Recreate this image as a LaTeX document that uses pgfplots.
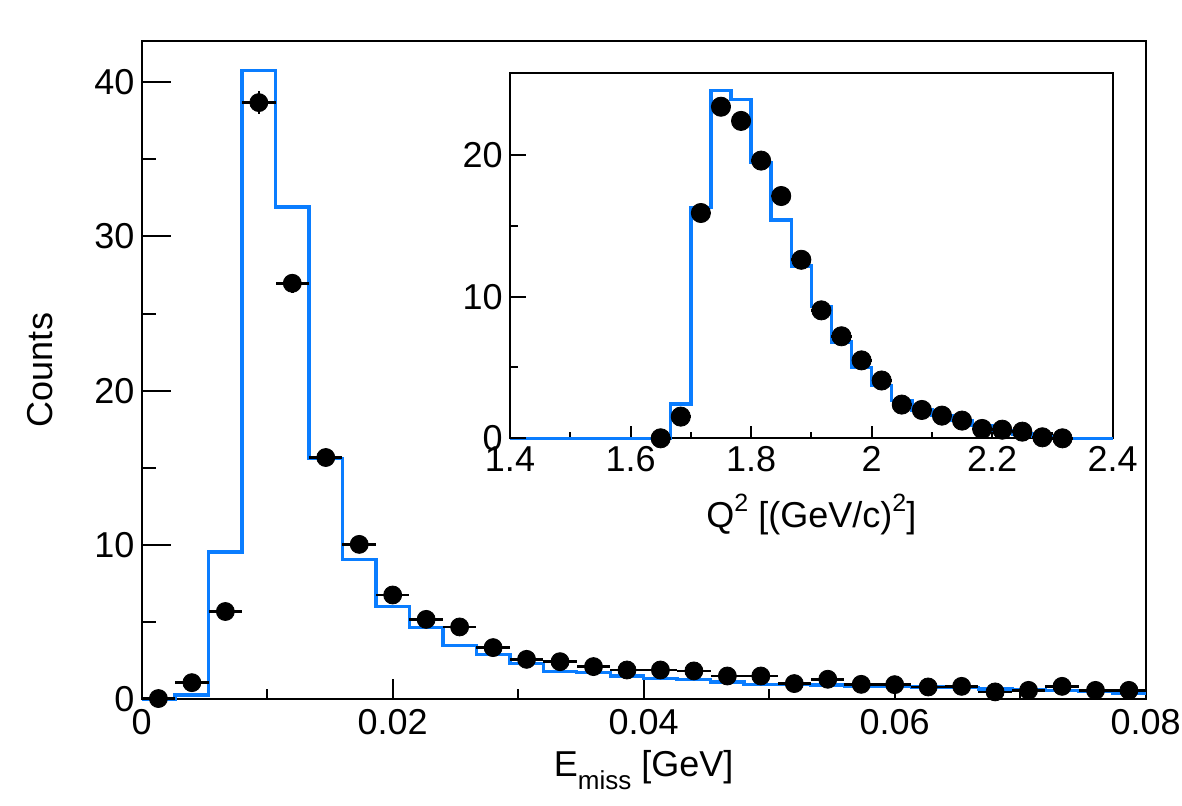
\documentclass[border=0pt]{standalone}
\usepackage{fontspec}
\setmainfont{Liberation Sans}
\usepackage{pgfplots}
\usepackage{pgfplotstable}
\pgfplotsset{compat=1.18}
\definecolor{histblue}{RGB}{10,125,255}

% E_miss: simulated histogram, bin low edges (last row closes the final bin)
\pgfplotstableread{
edge       h
0          0.0
0.0026667  0.28
0.0053333  9.55
0.008      40.75
0.0106667  31.9
0.0133333  15.62
0.016      9.05
0.0186667  6.0
0.0213333  4.64
0.024      3.5
0.0266667  2.92
0.0293333  2.31
0.032      1.81
0.0346667  1.73
0.0373333  1.51
0.04       1.34
0.0426667  1.30
0.0453333  1.12
0.048      0.97
0.0506667  0.95
0.0533333  0.92
0.056      0.84
0.0586667  0.82
0.0613333  0.79
0.064      0.76
0.0666667  0.66
0.0693333  0.62
0.072      0.58
0.0746667  0.50
0.0773333  0.40
0.08       0.40
}\emisshist

% E_miss: data, bin centres
\pgfplotstableread{
x          y      e
0.0013333  0.05   0.05
0.004      1.08   0.20
0.0066667  5.69   0.40
0.0093333  38.67  0.75
0.012      26.96  0.60
0.0146667  15.67  0.45
0.0173333  10.04  0.35
0.02       6.76   0.30
0.0226667  5.18   0.25
0.0253333  4.69   0.25
0.028      3.35   0.20
0.0306667  2.59   0.18
0.0333333  2.44   0.18
0.036      2.12   0.16
0.0386667  1.90   0.15
0.0413333  1.90   0.15
0.044      1.84   0.15
0.0466667  1.51   0.14
0.0493333  1.51   0.14
0.052      1.02   0.12
0.0546667  1.30   0.13
0.0573333  0.97   0.12
0.06       0.95   0.12
0.0626667  0.80   0.11
0.0653333  0.84   0.11
0.068      0.48   0.09
0.0706667  0.58   0.10
0.0733333  0.84   0.11
0.076      0.58   0.10
0.0786667  0.58   0.10
}\emissdata

% Q^2: simulated histogram, bin low edges
\pgfplotstableread{
edge     h
1.4      0
1.43333  0
1.46667  0
1.5      0
1.53333  0
1.56667  0
1.6      0
1.63333  0
1.66667  2.43
1.7      16.27
1.73333  24.55
1.76667  23.9
1.8      19.48
1.83333  15.4
1.86667  12.15
1.9      9.3
1.93333  6.8
1.96667  5.0
2.0      3.73
2.03333  2.67
2.06667  2.0
2.1      1.6
2.13333  1.25
2.16667  0.9
2.2      0.54
2.23333  0.3
2.26667  0.14
2.3      0
2.33333  0
2.36667  0
2.4      0
}\qsqhist

% Q^2: data, bin centres
\pgfplotstableread{
x        y      e
1.65     0.0    0.05
1.68333  1.53   0.20
1.71667  15.9   0.55
1.75     23.4   0.65
1.78333  22.4   0.65
1.81667  19.6   0.60
1.85     17.1   0.55
1.88333  12.6   0.48
1.91667  9.03   0.40
1.95     7.2    0.36
1.98333  5.5    0.32
2.01667  4.08   0.28
2.05     2.38   0.22
2.08333  2.0    0.20
2.11667  1.6    0.18
2.15     1.25   0.16
2.18333  0.66   0.12
2.21667  0.61   0.12
2.25     0.47   0.10
2.28333  0.07   0.04
2.31667  0.0    0.03
}\qsqdata

\newcommand{\lblfont}{\fontsize{18}{21.6}\selectfont}

\begin{document}
\begin{tikzpicture}
\useasboundingbox (-70.85pt,-52.85pt) rectangle (520.15pt,349.65pt);

% ---------- main panel: frame, x ticks, histogram and data ----------
\begin{axis}[
  at={(0pt,0pt)}, anchor=south west,
  scale only axis, width=502pt, height=329.3pt,
  xmin=0, xmax=0.08, ymin=0, ymax=42.68,
  clip=false,
  axis line style={line width=1pt, black},
  tick style={line width=1pt, black},
  tick align=inside, xtick pos=left,
  xtick={0,0.02,0.04,0.06,0.08},
  xticklabels={0,0.02,0.04,0.06,0.08},
  minor x tick num=1,
  major tick length=10pt, minor tick length=5pt,
  ytick=\empty,
  scaled x ticks=false,
  xticklabel style={font=\lblfont, anchor=north, inner sep=0pt, yshift=-4.85pt},
]
\addplot[const plot, histblue, line width=1.7pt, line join=miter]
  table[x=edge, y=h]{\emisshist};
\addplot[only marks, mark=*, mark size=4.5pt, black,
  error bars/.cd, x dir=both, x fixed=0.0013333,
  y dir=both, y explicit, error mark=none,
  error bar style={line width=1.3pt, black}]
  table[x=x, y=y, y error=e]{\emissdata};
\node[anchor=base, font=\lblfont, inner sep=0pt, yshift=-38.7pt]
  at (rel axis cs:0.5,0)
  {E\raisebox{-0.36em}{\fontsize{13}{13}\selectfont miss} [GeV]};
\node[rotate=90, anchor=base, font=\lblfont, inner sep=0pt]
  at ([xshift=-44.5pt]rel axis cs:0,0.5) {Counts};
\end{axis}

% ---------- main panel: y ticks ----------
\begin{axis}[
  at={(0pt,0pt)}, anchor=south west,
  scale only axis, width=502pt, height=329.3pt,
  xmin=0, xmax=0.08, ymin=0, ymax=42.68,
  axis x line=none, axis y line*=left,
  axis line style={draw=none},
  tick style={line width=1pt, black},
  tick align=inside,
  ytick={0,10,20,30,40}, yticklabels={0,10,20,30,40},
  minor y tick num=1,
  major tick length=14.5pt, minor tick length=7.25pt,
  yticklabel style={font=\lblfont, anchor=east, inner sep=0pt, xshift=-3.5pt},
]
\addplot[draw=none] coordinates {(0,0)};
\end{axis}

% ---------- inset: frame, x ticks, histogram and data ----------
\begin{axis}[
  at={(184.15pt,130.5pt)}, anchor=south west,
  scale only axis, width=301.35pt, height=182.5pt,
  xmin=1.4, xmax=2.4, ymin=0, ymax=25.76,
  clip=false,
  axis background/.style={fill=white},
  axis line style={line width=1pt, black},
  tick style={line width=1pt, black},
  tick align=inside, xtick pos=left,
  xtick={1.4,1.6,1.8,2.0,2.2,2.4},
  xticklabels={1.4,1.6,1.8,2,2.2,2.4},
  minor x tick num=1,
  major tick length=6pt, minor tick length=3pt,
  ytick=\empty,
  xticklabel style={font=\lblfont, anchor=north, inner sep=0pt, yshift=-4pt},
]
\addplot[const plot, histblue, line width=1.7pt, line join=miter]
  table[x=edge, y=h]{\qsqhist};
\addplot[only marks, mark=*, mark size=4.8pt, black,
  error bars/.cd, x dir=both, x fixed=0.0166667,
  y dir=both, y explicit, error mark=none,
  error bar style={line width=1.3pt, black}]
  table[x=x, y=y, y error=e]{\qsqdata};
\node[anchor=base, font=\lblfont, inner sep=0pt, yshift=-44.4pt]
  at (rel axis cs:0.5,0)
  {Q\raisebox{0.42em}{\fontsize{12.5}{12.5}\selectfont 2} [(GeV/c)\raisebox{0.42em}{\fontsize{12.5}{12.5}\selectfont 2}]};
\end{axis}

% ---------- inset: y ticks ----------
\begin{axis}[
  at={(184.15pt,130.5pt)}, anchor=south west,
  scale only axis, width=301.35pt, height=182.5pt,
  xmin=1.4, xmax=2.4, ymin=0, ymax=25.76,
  axis x line=none, axis y line*=left,
  axis line style={draw=none},
  tick style={line width=1pt, black},
  tick align=inside,
  ytick={0,10,20}, yticklabels={0,10,20},
  minor y tick num=1,
  major tick length=8pt, minor tick length=4pt,
  yticklabel style={font=\lblfont, anchor=east, inner sep=0pt, xshift=-3.5pt},
]
\addplot[draw=none] coordinates {(1.4,0)};
\end{axis}
\end{tikzpicture}
\end{document}
